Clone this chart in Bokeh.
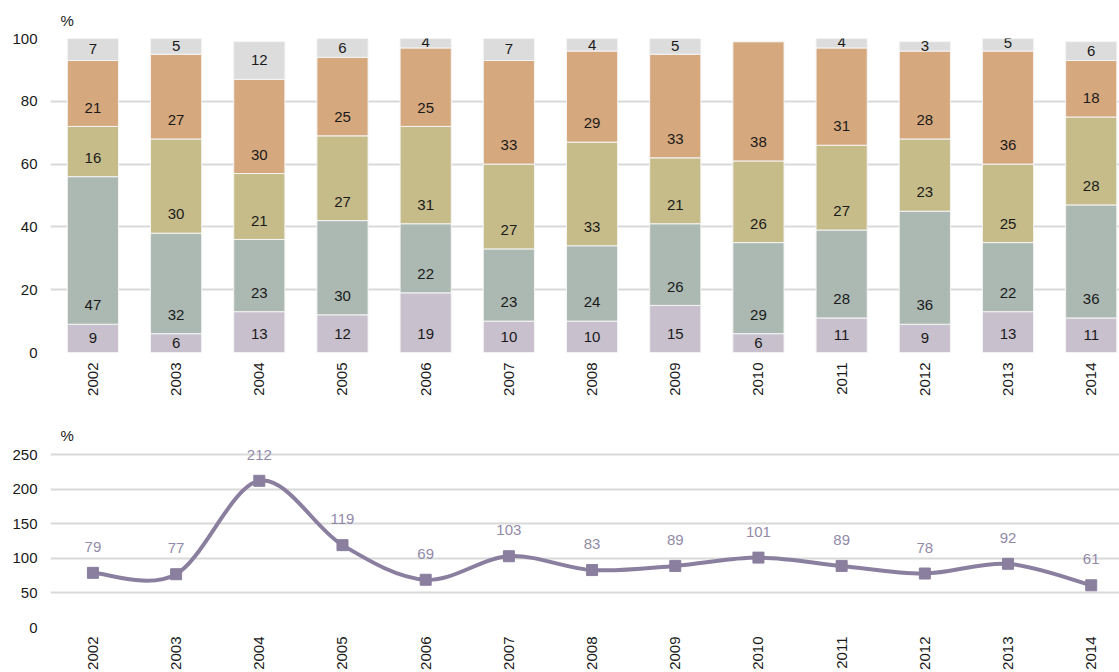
import math
from bokeh.plotting import figure
from bokeh.layouts import column
from bokeh.models import FixedTicker, Range1d, ColumnDataSource
from bokeh.core.properties import value
from bokeh.embed import file_html
from bokeh.resources import INLINE

# ---------------- data ----------------
years = [2002, 2003, 2004, 2005, 2006, 2007, 2008, 2009, 2010, 2011, 2012, 2013, 2014]
seg_purple = [9, 6, 13, 12, 19, 10, 10, 15, 6, 11, 9, 13, 11]
seg_sage = [47, 32, 23, 30, 22, 23, 24, 26, 29, 28, 36, 22, 36]
seg_khaki = [16, 30, 21, 27, 31, 27, 33, 21, 26, 27, 23, 25, 28]
seg_tan = [21, 27, 30, 25, 25, 33, 29, 33, 38, 31, 28, 36, 18]
seg_grey = [7, 5, 12, 6, 4, 7, 4, 5, 0, 4, 3, 5, 6]
growth = [79, 77, 212, 119, 69, 103, 83, 89, 101, 89, 78, 92, 61]
y_ticks_top = [0, 20, 40, 60, 80, 100]
y_ticks_bottom = [0, 50, 100, 150, 200, 250]
unit_label = "%"

series = [seg_purple, seg_sage, seg_khaki, seg_tan, seg_grey]
colors = ["#C8C0CC", "#ABB9B2", "#C6BC89", "#D6A87E", "#DCDCDC"]

FONT = value("Liberation Sans")
FS = "15px"
GRID = "#D9D9D9"
XR = (2001.49, 2014.34)


def style_axes(p, yticks, x_standoff):
    p.outline_line_color = None
    p.xgrid.grid_line_color = None
    p.ygrid.grid_line_color = GRID
    p.ygrid.grid_line_width = 2
    p.xaxis.ticker = FixedTicker(ticks=years)
    p.yaxis.ticker = FixedTicker(ticks=yticks)
    for ax in (p.xaxis[0], p.yaxis[0]):
        ax.axis_line_color = None
        ax.major_tick_line_color = None
        ax.minor_tick_line_color = None
        ax.major_tick_out = 0
        ax.major_tick_in = 0
        ax.minor_tick_out = 0
        ax.minor_tick_in = 0
        ax.major_label_text_font = "Liberation Sans"
        ax.major_label_text_font_size = FS
        ax.major_label_text_color = "#1A1A1A"
    p.xaxis.major_label_orientation = math.pi / 2
    p.xaxis.major_label_standoff = x_standoff
    p.yaxis.major_label_standoff = 13


# ---------------- top: stacked bars ----------------
p1 = figure(width=1119, height=400, x_range=Range1d(*XR), y_range=Range1d(0, 100),
            output_backend="svg", toolbar_location=None,
            min_border_left=50, min_border_right=0, min_border_top=37, min_border_bottom=48)
style_axes(p1, y_ticks_top, 10)
p1.title.text = unit_label
p1.title.align = "left"
p1.title.offset = 10
p1.title.standoff = 19
p1.title.text_font = "Liberation Sans"
p1.title.text_font_size = FS
p1.title.text_font_style = "normal"
p1.title.text_color = "#1A1A1A"

base = [0] * len(years)
lx, ly, lt = [], [], []
for vals, col in zip(series, colors):
    tops = [b + v for b, v in zip(base, vals)]
    p1.vbar(x=years, bottom=base, top=tops, width=0.615, fill_color=col,
            line_color="#F4F4F4", line_width=1)
    for yr, b, v in zip(years, base, vals):
        if v > 0:
            lx.append(yr)
            ly.append(b + min(6, v / 2))
            lt.append(str(v))
    base = tops

p1.text(x=lx, y=ly, text=lt, text_align="center", text_baseline="middle",
        text_font=FONT, text_font_size=FS, text_color="#1A1A1A")

# ---------------- bottom: smoothed line ----------------
# frame extends above the 250 grid line so the value labels are not clipped
FRAME_TOP2, GRID_H2 = 24, 173
frame_h2 = 272 - FRAME_TOP2 - 45
y_end2 = 250 * frame_h2 / GRID_H2
p2 = figure(width=1119, height=272, x_range=Range1d(*XR), y_range=Range1d(0, y_end2),
            output_backend="svg", toolbar_location=None,
            min_border_left=50, min_border_right=0, min_border_top=FRAME_TOP2,
            min_border_bottom=45)
style_axes(p2, y_ticks_bottom, 9)

LINE = "#8A7F9E"
n = len(years)
x0, y0, x1, y1, cx0, cy0, cx1, cy1 = [], [], [], [], [], [], [], []
for i in range(n - 1):
    im, ip2 = max(i - 1, 0), min(i + 2, n - 1)
    x0.append(years[i]); y0.append(growth[i])
    x1.append(years[i + 1]); y1.append(growth[i + 1])
    cx0.append(years[i] + (years[i + 1] - years[im]) / 6)
    cy0.append(growth[i] + (growth[i + 1] - growth[im]) / 6)
    cx1.append(years[i + 1] - (years[ip2] - years[i]) / 6)
    cy1.append(growth[i + 1] - (growth[ip2] - growth[i]) / 6)
p2.bezier(x0=x0, y0=y0, x1=x1, y1=y1, cx0=cx0, cy0=cy0, cx1=cx1, cy1=cy1,
          line_color=LINE, line_width=4, line_cap="round")
p2.scatter(x=years, y=growth, marker="square", size=11, fill_color=LINE, line_color=LINE)

src = ColumnDataSource(dict(x=years, y=growth, t=[str(v) for v in growth]))
p2.text(x="x", y="y", text="t", source=src, text_align="center",
        text_baseline="middle", y_offset=-26, text_font=FONT,
        text_font_size=FS, text_color="#928AA8")

# unit label "%" at the top-left of the bottom panel
p2.text(x=[XR[0]], y=[250], text=[unit_label], text_align="left", text_baseline="middle",
        x_offset=10, y_offset=-19, text_font=FONT, text_font_size=FS, text_color="#1A1A1A")

layout = column(p1, p2, spacing=0)
open("out.html", "w").write(file_html(layout, INLINE))
